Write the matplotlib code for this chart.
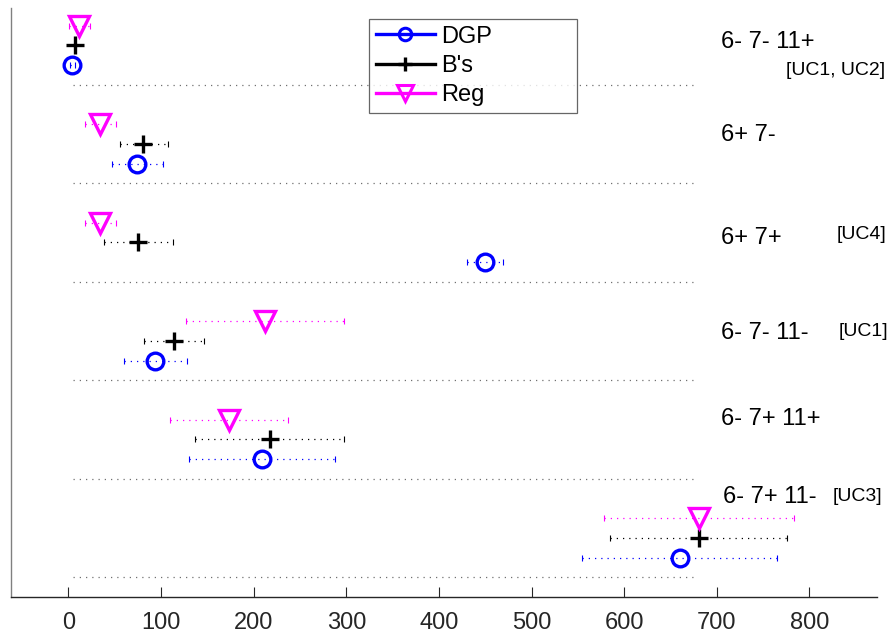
import matplotlib
matplotlib.use("Agg")
import matplotlib.pyplot as plt
from matplotlib.lines import Line2D

plt.rcParams["font.family"] = ["Liberation Sans", "DejaVu Sans"]

# genotype groups, top to bottom
groups = ["6- 7- 11+", "6+ 7-", "6+ 7+", "6- 7- 11-", "6- 7+ 11+", "6- 7+ 11-"]
tags = ["[UC1, UC2]", "", "[UC4]", "[UC1]", "", "[UC3]"]

# point estimates and interval ends per method
dgp = [4, 74, 450, 93, 209, 660]
dgp_lo = [1.5, 47, 430, 60, 130, 554]
dgp_hi = [7, 102, 469, 128, 288, 765]

bs = [7, 81, 75, 114, 218, 681]
bs_lo = [7, 56, 38, 82, 137, 585]
bs_hi = [7, 107, 113, 146, 298, 776]

reg = [11, 34, 34, 212, 173, 681]
reg_lo = [0.5, 18, 18, 127, 110, 578]
reg_hi = [23, 51, 51, 297, 237, 783]

series = [
    ("DGP", dgp, dgp_lo, dgp_hi, "#0000ff", "o", 12, 0.2),
    ("B's", bs, bs_lo, bs_hi, "black", "+", 13, 0.4),
    ("Reg", reg, reg_lo, reg_hi, "#ff00ff", "v", 14, 0.6),
]

fig = plt.figure(figsize=(8.9, 6.37), dpi=100)
ax = fig.add_axes([0.0124, 0.0628, 0.973, 0.9246])

n = len(groups)
rows = list(range(1, n + 1))

# dotted separators under each group
for r in rows:
    ax.plot([5, 680], [r, r], linestyle=(0, (1, 4)), color="#707070", lw=0.9)

for name, val, lo, hi, col, mk, ms, off in series:
    y = [r - off for r in rows]
    xerr = [[v - l for v, l in zip(val, lo)], [h - v for v, h in zip(val, hi)]]
    _, caps, bars = ax.errorbar(val, y, xerr=xerr, fmt="none", ecolor=col,
                                elinewidth=0.9, capsize=2.5, capthick=0.8)
    for b in bars:
        b.set_linestyle((0, (1, 4)))
    ax.plot(val, y, linestyle="none", marker=mk, markersize=ms,
            markerfacecolor="none", markeredgecolor=col, markeredgewidth=2.4)

label_y = [0.56, 1.51, 2.55, 3.52, 4.39, 5.18]
label_x = [705, 705, 705, 705, 705, 707]
tag_pos = [(775, 0.85), None, (829, 2.52), (832, 3.50), None, (825, 5.18)]
for i, g in enumerate(groups):
    ax.text(label_x[i], label_y[i], g, fontsize=17, va="center", ha="left")
    if tags[i]:
        tx, ty = tag_pos[i]
        ax.text(tx, ty, tags[i], fontsize=14, va="center", ha="left")

ax.set_xlim(-62, 873)
ax.set_ylim(6.2, 0.22)
ax.set_xticks([0, 100, 200, 300, 400, 500, 600, 700, 800])
ax.set_yticks([])
ax.tick_params(axis="x", direction="in", length=7, width=0.8,
               labelsize=17, colors="#262626", pad=11)
for s in ("top", "right"):
    ax.spines[s].set_visible(False)
ax.spines["left"].set_color("#808080")
ax.spines["bottom"].set_color("#262626")
ax.spines["left"].set_linewidth(1.0)
ax.spines["bottom"].set_linewidth(1.0)

handles = [
    Line2D([], [], color="#0000ff", lw=2.4, marker="o", markersize=9,
           markerfacecolor="none", markeredgewidth=2.2),
    Line2D([], [], color="black", lw=2.4, marker="+", markersize=10,
           markeredgewidth=2.4),
    Line2D([], [], color="#ff00ff", lw=2.4, marker="v", markersize=12,
           markerfacecolor="none", markeredgewidth=2.2),
]
leg = ax.legend(handles, ["DGP", "B's", "Reg"], loc="upper left",
                bbox_to_anchor=(0.413, 0.824, 0.240, 0.158), mode="expand",
                fontsize=17, frameon=True, fancybox=False, edgecolor="#404040",
                handlelength=2.5, handletextpad=0.25, borderpad=0.3,
                labelspacing=0.3, borderaxespad=0)
leg.get_frame().set_linewidth(0.9)

fig.savefig("out.png", dpi=100)
